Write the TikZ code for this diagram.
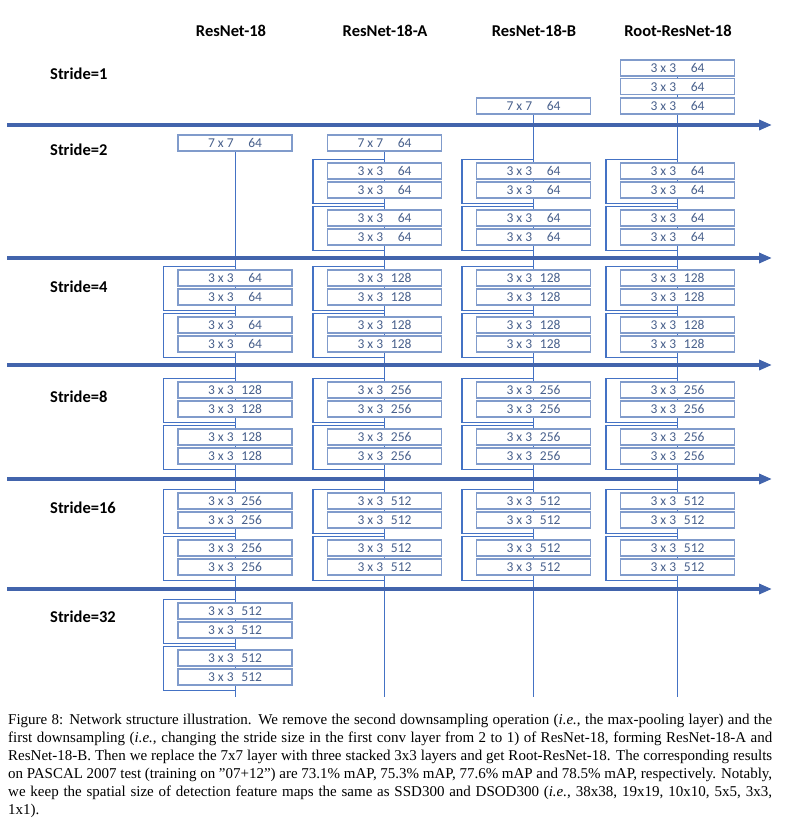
\documentclass[tikz,border=0pt]{standalone}
\usepackage{fontspec}
\setmainfont{Liberation Serif}
\newfontfamily\calibri{Carlito}
\usetikzlibrary{arrows.meta,backgrounds}
\definecolor{arrowblue}{RGB}{66,100,172}
\definecolor{lineblue}{RGB}{68,114,196}
\definecolor{boxblue}{RGB}{128,155,203}
\definecolor{textblue}{RGB}{72,96,140}
\newcommand\lay[2]{\makebox[54pt]{#1\hfill #2}}
\newcommand\resblock[4]{%
  \node[layer] (#1a) at (#2,#3+11) {\lay{3 x 3}{#4}};
  \node[layer] (#1b) at (#2,#3+30) {\lay{3 x 3}{#4}};
  \draw[skip] ([yshift=3pt]#1a.north) -| ([xshift=-14pt,yshift=-5pt]#1b.south west) -- ([yshift=-5pt]#1b.south);
}
\begin{document}
\begin{tikzpicture}[x=1pt,y=-1pt,
  layer/.style={draw=boxblue, line width=1.1pt, fill=white, minimum width=114pt, minimum height=16pt, inner sep=0pt, font=\calibri\fontsize{13.5}{14}\selectfont, text=textblue},
  head/.style={font=\calibri\bfseries\fontsize{16.5}{18}\selectfont},
  stridelbl/.style={head, anchor=west, inner sep=0pt},
  flow/.style={line width=3.5pt, draw=arrowblue, -{Triangle[length=13pt,width=10pt]}},
  trunk/.style={draw=lineblue, line width=1pt},
  skip/.style={draw=lineblue, line width=1.2pt}]
\useasboundingbox (0,0) rectangle (789,821);

% headers
\node[head] (h1) at (231,31) {ResNet-18};
\node[head] (h2) at (385,31) {ResNet-18-A};
\node[head] (h3) at (534,31) {ResNet-18-B};
\node[head] (h4) at (678,31) {Root-ResNet-18};

% stride labels
\node[stridelbl] (s1) at (50,74) {Stride=1};
\node[stridelbl] (s2) at (50,150) {Stride=2};
\node[stridelbl] (s4) at (50,287) {Stride=4};
\node[stridelbl] (s8) at (50,397) {Stride=8};
\node[stridelbl] (s16) at (50,508) {Stride=16};
\node[stridelbl] (s32) at (50,617) {Stride=32};

% horizontal stride arrows
\foreach \i/\yy in {1/125,2/258,3/365,4/479,5/589}{
  \coordinate (f\i s) at (7,\yy);
  \coordinate (f\i e) at (772,\yy);
  \draw[flow] (f\i s) -- (f\i e);
}

% top layers
\node[layer] (r7) at (235,143) {\lay{7 x 7}{64}};
\node[layer] (a7) at (384.5,143) {\lay{7 x 7}{64}};
\node[layer] (b7) at (533.5,106) {\lay{7 x 7}{64}};
\node[layer] (t1) at (677.5,68) {\lay{3 x 3}{64}};
\node[layer] (t2) at (677.5,86.5) {\lay{3 x 3}{64}};
\node[layer] (t3) at (677.5,106) {\lay{3 x 3}{64}};

% stride 2
\resblock{aA}{384.5}{160}{64}
\resblock{aB}{384.5}{207}{64}
\resblock{bA}{533.5}{160}{64}
\resblock{bB}{533.5}{207}{64}
\resblock{cA}{677.5}{160}{64}
\resblock{cB}{677.5}{207}{64}
% stride 4
\resblock{rC}{235}{267}{64}
\resblock{rD}{235}{314}{64}
\resblock{aC}{384.5}{267}{128}
\resblock{aD}{384.5}{314}{128}
\resblock{bC}{533.5}{267}{128}
\resblock{bD}{533.5}{314}{128}
\resblock{cC}{677.5}{267}{128}
\resblock{cD}{677.5}{314}{128}
% stride 8
\resblock{rE}{235}{379}{128}
\resblock{rF}{235}{426}{128}
\resblock{aE}{384.5}{379}{256}
\resblock{aF}{384.5}{426}{256}
\resblock{bE}{533.5}{379}{256}
\resblock{bF}{533.5}{426}{256}
\resblock{cE}{677.5}{379}{256}
\resblock{cF}{677.5}{426}{256}
% stride 16
\resblock{rG}{235}{490}{256}
\resblock{rH}{235}{537}{256}
\resblock{aG}{384.5}{490}{512}
\resblock{aH}{384.5}{537}{512}
\resblock{bG}{533.5}{490}{512}
\resblock{bH}{533.5}{537}{512}
\resblock{cG}{677.5}{490}{512}
\resblock{cH}{677.5}{537}{512}
% stride 32
\resblock{rI}{235}{600}{512}
\resblock{rJ}{235}{647}{512}

% trunks
\coordinate (rend) at (235,697);
\coordinate (aend) at (384.5,697);
\coordinate (bend) at (533.5,697);
\coordinate (cend) at (677.5,697);
\begin{pgfonlayer}{background}
\draw[trunk] (r7) -- (rend);
\draw[trunk] (a7) -- (aend);
\draw[trunk] (b7) -- (bend);
\draw[trunk] (t1) -- (cend);
\end{pgfonlayer}

% caption
\node[anchor=north west, inner sep=0pt, text width=764pt, align=justify, font=\fontsize{15}{18}\selectfont] (cap) at (8,714) {Figure 8: Network structure illustration. We remove the second downsampling operation (\textit{i.e.}, the max-pooling layer) and the first downsampling (\textit{i.e.}, changing the stride size in the first conv layer from 2 to 1) of ResNet-18, forming ResNet-18-A and ResNet-18-B. Then we replace the 7x7 layer with three stacked 3x3 layers and get Root-ResNet-18. The corresponding results on PASCAL 2007 test (training on ''07+12'') are 73.1\% mAP, 75.3\% mAP, 77.6\% mAP and 78.5\% mAP, respectively. Notably, we keep the spatial size of detection feature maps the same as SSD300 and DSOD300 (\textit{i.e.}, 38x38, 19x19, 10x10, 5x5, 3x3,\linebreak 1x1).};
\end{tikzpicture}
\end{document}
